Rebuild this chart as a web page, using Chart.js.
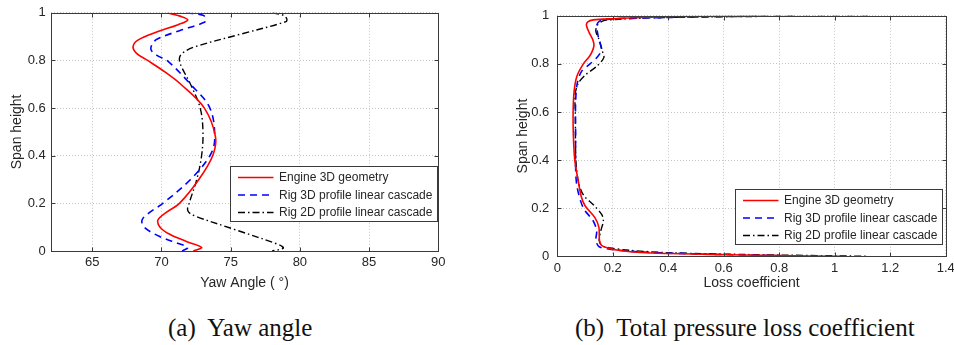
<!DOCTYPE html>
<html>
<head>
<meta charset="utf-8">
<script src="https://cdn.jsdelivr.net/npm/chart.js@4.4.1/dist/chart.umd.min.js"></script>
<style>
  body { margin: 0; background: #fff; }
  #wrap { position: relative; width: 954px; height: 345px; overflow: hidden; }
  canvas { position: absolute; top: 0; }
  #yawCanvas { left: 0; }
  #lossCanvas { left: 477px; }
  .caption { position: absolute; top: 315px; font-family: 'Liberation Serif', 'Times New Roman', serif; font-size: 25px; line-height: 25px; color: #111; white-space: pre; }
</style>
</head>
<body>
<div id="wrap">
  <canvas id="yawCanvas" width="477" height="300"></canvas>
  <canvas id="lossCanvas" width="477" height="300"></canvas>
  <div class="caption" style="left:168px">(a)  Yaw angle</div>
  <div class="caption" style="left:575px">(b)  Total pressure loss coefficient</div>
</div>
<script>
'use strict'

// tick values
const spanTicks = [0, 0.2, 0.4, 0.6, 0.8, 1];
const yawTicks = [65, 70, 75, 80, 85, 90];
const lossTicks = [0, 0.2, 0.4, 0.6, 0.8, 1, 1.2, 1.4];

const seriesNames = ['Engine 3D geometry', 'Rig 3D profile linear cascade', 'Rig 2D profile linear cascade'];

// (a) yaw angle
const yawEngineSpan = [1, 0.985, 0.97, 0.95, 0.92, 0.885, 0.857, 0.83, 0.8, 0.75, 0.7, 0.6, 0.48, 0.4, 0.3, 0.2, 0.16, 0.13, 0.1, 0.07, 0.04, 0.015, 0];
const yawEngine = [70.4, 71.4, 71.9, 71.2, 69.7, 68.3, 67.95, 68.2, 69.0, 70.3, 71.4, 73.1, 73.9, 73.7, 72.7, 71.3, 70.3, 69.75, 69.9, 70.6, 71.8, 72.9, 72.3];

const yawRig3dSpan = [1, 0.99, 0.975, 0.96, 0.925, 0.89, 0.87, 0.845, 0.82, 0.8, 0.7, 0.6, 0.47, 0.4, 0.3, 0.2, 0.16, 0.13, 0.1, 0.06, 0.03, 0.015, 0];
const yawRig3d = [71.8, 73.0, 73.2, 73.1, 71.3, 69.7, 69.35, 69.25, 69.7, 70.4, 72.1, 73.5, 73.85, 73.5, 72.1, 70.1, 69.1, 68.6, 68.75, 69.9, 71.3, 71.9, 71.5];

const yawRig2dSpan = [1, 0.99, 0.975, 0.963, 0.91, 0.857, 0.83, 0.81, 0.78, 0.7, 0.6, 0.5, 0.4, 0.3, 0.2, 0.17, 0.15, 0.09, 0.025, 0.012, 0];
const yawRig2d = [78.0, 78.8, 79.05, 79.0, 75.7, 72.4, 71.5, 71.3, 71.4, 72.1, 72.8, 73.0, 72.9, 72.55, 72.0, 71.9, 72.3, 75.3, 78.55, 78.8, 78.0];

// (b) total pressure loss coefficient
const lossEngineSpan = [1, 0.997, 0.993, 0.988, 0.983, 0.975, 0.96, 0.93, 0.9, 0.875, 0.85, 0.83, 0.8, 0.75, 0.69, 0.6, 0.5, 0.4, 0.31, 0.25, 0.21, 0.16, 0.12, 0.066, 0.045, 0.035, 0.025, 0.016, 0.008, 0.003, 0];
const lossEngine = [0.75, 0.45, 0.3, 0.2, 0.13, 0.11, 0.105, 0.115, 0.128, 0.132, 0.125, 0.115, 0.094, 0.071, 0.061, 0.057, 0.058, 0.063, 0.076, 0.086, 0.1, 0.136, 0.15, 0.152, 0.16, 0.18, 0.22, 0.3, 0.54, 0.8, 1.02];

const lossRig3dSpan = [1, 0.997, 0.993, 0.99, 0.985, 0.978, 0.96, 0.93, 0.9, 0.86, 0.83, 0.8, 0.77, 0.72, 0.64, 0.5, 0.37, 0.29, 0.2, 0.15, 0.107, 0.066, 0.04, 0.028, 0.018, 0.01, 0.004, 0];
const lossRig3d = [0.85, 0.6, 0.4, 0.25, 0.18, 0.152, 0.142, 0.145, 0.15, 0.16, 0.145, 0.118, 0.088, 0.072, 0.066, 0.066, 0.066, 0.071, 0.094, 0.128, 0.142, 0.139, 0.151, 0.2, 0.3, 0.5, 0.75, 0.88];

const lossRig2dSpan = [1, 0.998, 0.995, 0.99, 0.985, 0.979, 0.96, 0.935, 0.9, 0.86, 0.827, 0.79, 0.753, 0.72, 0.673, 0.6, 0.4, 0.31, 0.255, 0.214, 0.174, 0.147, 0.107, 0.066, 0.045, 0.035, 0.025, 0.015, 0.007, 0];
const lossRig2d = [1.12, 0.8, 0.5, 0.3, 0.22, 0.165, 0.144, 0.139, 0.151, 0.16, 0.168, 0.142, 0.1, 0.076, 0.064, 0.065, 0.067, 0.076, 0.094, 0.13, 0.16, 0.166, 0.157, 0.151, 0.16, 0.19, 0.26, 0.4, 0.7, 1.12];

const seriesStyle = [
  { color: '#ff0000', dash: [], width: 1.6 },
  { color: '#0000ff', dash: [7, 5], width: 1.6 },
  { color: '#000000', dash: [7, 3, 1.5, 3], width: 1.4 }
];

const sansFont = "'Liberation Sans', Arial, sans-serif";
const textColor = '#262626';

function toPoints(xs, ys) {
  return xs.map((x, i) => ({ x: x, y: ys[i] }));
}

function tickText(v) {
  return String(Math.round(v * 100) / 100);
}

function makeDatasets(pairs, tension) {
  return pairs.map((p, i) => ({
    label: seriesNames[i],
    data: toPoints(p[0], p[1]),
    borderColor: seriesStyle[i].color,
    borderDash: seriesStyle[i].dash,
    borderWidth: seriesStyle[i].width,
    pointRadius: 0,
    tension: tension,
    fill: false
  }));
}

// matlab style box, inner ticks and legend
const framePlugin = {
  id: 'frame',
  afterDatasetsDraw(chart, args, opts) {
    const { ctx, chartArea: a, scales } = chart;
    ctx.save();
    ctx.strokeStyle = '#3a3a3a';
    ctx.lineWidth = 1;
    ctx.setLineDash([]);
    const L = Math.round(a.left) + 0.5, R = Math.round(a.right) + 0.5;
    const T = Math.round(a.top) + 0.5, B = Math.round(a.bottom) + 0.5;
    ctx.strokeRect(L, T, R - L, B - T);
    const len = 4;
    ctx.beginPath();
    scales.x.ticks.forEach(t => {
      const px = Math.round(scales.x.getPixelForValue(t.value)) + 0.5;
      ctx.moveTo(px, B); ctx.lineTo(px, B - len);
      ctx.moveTo(px, T); ctx.lineTo(px, T + len);
    });
    scales.y.ticks.forEach(t => {
      const py = Math.round(scales.y.getPixelForValue(t.value)) + 0.5;
      ctx.moveTo(L, py); ctx.lineTo(L + len, py);
      ctx.moveTo(R, py); ctx.lineTo(R - len, py);
    });
    ctx.stroke();

    // legend
    ctx.font = '12px ' + sansFont;
    const sets = chart.data.datasets;
    const tw = Math.max(...sets.map(d => ctx.measureText(d.label).width));
    const w = Math.round(48.5 + tw + 5), h = 55;
    const x0 = Math.round(a.right - opts.legendRight - w) + 0.5;
    const y0 = Math.round(a.bottom - opts.legendBottom - h) + 0.5;
    ctx.fillStyle = '#fff';
    ctx.fillRect(x0, y0, w, h);
    ctx.strokeStyle = '#3a3a3a';
    ctx.strokeRect(x0, y0, w, h);
    sets.forEach((d, i) => {
      const cy = y0 + 11 + i * 17.5;
      ctx.beginPath();
      ctx.strokeStyle = d.borderColor;
      ctx.lineWidth = d.borderWidth;
      ctx.setLineDash(d.borderDash);
      ctx.moveTo(x0 + 7.5, cy);
      ctx.lineTo(x0 + 43, cy);
      ctx.stroke();
      ctx.setLineDash([]);
      ctx.fillStyle = textColor;
      ctx.textBaseline = 'middle';
      ctx.textAlign = 'left';
      ctx.fillText(d.label, x0 + 48.5, cy + 0.5);
    });
    ctx.restore();
  }
};

function makeChart(canvas, c) {
  return new Chart(canvas, {
    type: 'line',
    data: { datasets: makeDatasets(c.pairs, c.tension) },
    plugins: [framePlugin],
    options: {
      responsive: false,
      animation: false,
      devicePixelRatio: 1,
      layout: { padding: c.padding },
      plugins: {
        legend: { display: false },
        tooltip: { enabled: false },
        frame: { legendRight: c.legendRight, legendBottom: c.legendBottom }
      },
      scales: {
        x: {
          type: 'linear',
          min: c.xMin,
          max: c.xMax,
          afterBuildTicks: s => { s.ticks = c.xTicks.map(v => ({ value: v })); },
          afterFit: s => { s.height = c.xHeight; s.paddingLeft = 0; s.paddingRight = 0; },
          grid: { color: '#c4c4c4', lineWidth: 1, drawTicks: false },
          border: { display: false, dash: [1, 2] },
          ticks: { color: textColor, padding: c.xTickPad, maxRotation: 0, autoSkip: false, callback: tickText, font: { family: sansFont, size: 13 } },
          title: { display: true, text: c.xTitle, color: textColor, padding: { top: 0, bottom: c.xTitlePad }, font: { family: sansFont, size: 14 } }
        },
        y: {
          type: 'linear',
          min: 0,
          max: 1,
          afterBuildTicks: s => { s.ticks = spanTicks.map(v => ({ value: v })); },
          afterFit: s => { s.width = c.yWidth; },
          grid: { color: '#c4c4c4', lineWidth: 1, drawTicks: false },
          border: { display: false, dash: [1, 2] },
          ticks: { color: textColor, padding: c.yTickPad, autoSkip: false, callback: tickText, font: { family: sansFont, size: 13 } },
          title: { display: true, text: 'Span height', color: textColor, padding: { top: c.yTitlePad, bottom: 0 }, font: { family: sansFont, size: 14 } }
        }
      }
    }
  });
}

makeChart(document.getElementById('yawCanvas'), {
  pairs: [[yawEngine, yawEngineSpan], [yawRig3d, yawRig3dSpan], [yawRig2d, yawRig2dSpan]],
  tension: 0.35,
  padding: { left: 0, right: 38.7, top: 12.7, bottom: 0 },
  xMin: 62, xMax: 90, xTicks: yawTicks,
  xTitle: 'Yaw Angle ( \u00B0)',
  xHeight: 49, xTickPad: 4, xTitlePad: 8.6,
  yWidth: 50.7, yTickPad: 5, yTitlePad: 9,
  legendRight: 1, legendBottom: 30.3
});

makeChart(document.getElementById('lossCanvas'), {
  pairs: [[lossEngine, lossEngineSpan], [lossRig3d, lossRig3dSpan], [lossRig2d, lossRig2dSpan]],
  tension: 0.3,
  padding: { left: 0, right: 8.3, top: 9, bottom: 0 },
  xMin: 0, xMax: 1.4, xTicks: lossTicks,
  xTitle: 'Loss coefficient',
  xHeight: 43.7, xTickPad: 4.5, xTitlePad: 8.3,
  yWidth: 80.3, yTickPad: 8, yTitlePad: 37.9,
  legendRight: 4, legendBottom: 12
});
</script>
</body>
</html>
